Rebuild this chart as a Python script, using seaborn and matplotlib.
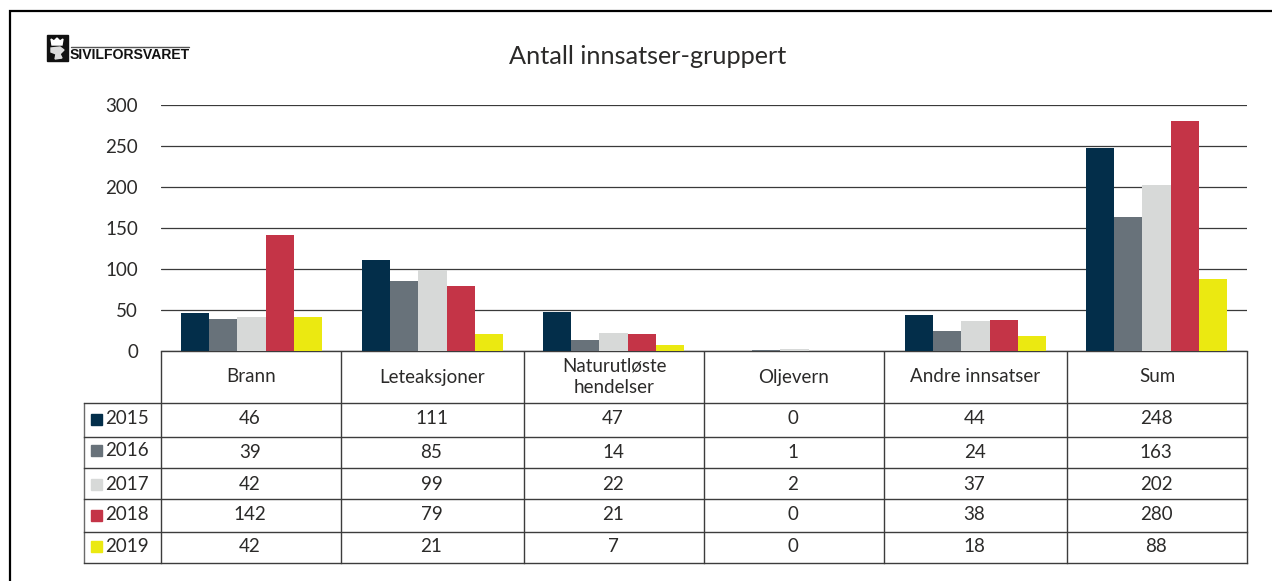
import matplotlib
matplotlib.use('Agg')
import matplotlib.pyplot as plt
from matplotlib.patches import Rectangle, Polygon
import pandas as pd
import seaborn as sns

categories = ['Brann', 'Leteaksjoner', 'Naturutløste\nhendelser', 'Oljevern', 'Andre innsatser', 'Sum']
years = ['2015', '2016', '2017', '2018', '2019']
v2015 = [46, 111, 47, 0, 44, 248]
v2016 = [39, 85, 14, 1, 24, 163]
v2017 = [42, 99, 22, 2, 37, 202]
v2018 = [142, 79, 21, 0, 38, 280]
v2019 = [42, 21, 7, 0, 18, 88]
series = [v2015, v2016, v2017, v2018, v2019]
colors = ['#032e4a', '#68727a', '#d7d9d8', '#c43447', '#ebe911']

W, H = 1272, 581
TXT = '#2b2a29'
LINE = '#3c3c3c'
FS = 13.5

sns.set_theme(style='white')
plt.rcParams['font.family'] = ['Lato', 'DejaVu Sans']

rows = []
for year, vals in zip(years, series):
    for cat, v in zip(categories, vals):
        rows.append({'kategori': cat, 'aar': year, 'antall': v})
df = pd.DataFrame(rows)

fig = plt.figure(figsize=(W / 100, H / 100), dpi=100, facecolor='white')

# chart area
ax = fig.add_axes([161 / W, 1 - 351 / H, (1247 - 161) / W, (351 - 105) / H])
sns.barplot(data=df, x='kategori', y='antall', hue='aar', palette=colors, hue_order=years,
            order=categories, width=0.775, gap=0, saturation=1, legend=False, ax=ax,
            linewidth=0, edgecolor='none', zorder=3)
ax.set_xlim(-0.5, 5.5)
ax.set_ylim(0, 300)
ax.set_yticks(range(0, 301, 50))
ax.tick_params(axis='y', labelsize=FS, labelcolor=TXT, length=0, pad=16.5)
ax.set_xticks([])
ax.set_xlabel('')
ax.set_ylabel('')
ax.grid(axis='y', color='#3a3a3a', lw=0.9, zorder=0)
ax.set_axisbelow(True)
for s in ['top', 'right', 'left']:
    ax.spines[s].set_visible(False)
ax.spines['bottom'].set_color(LINE)
ax.spines['bottom'].set_linewidth(1.0)
ax.spines['bottom'].set_zorder(1)

# overlay in pixel coordinates for frame, logo and data table
ov = fig.add_axes([0, 0, 1, 1], zorder=5)
ov.set_xlim(0, W)
ov.set_ylim(H, 0)
ov.axis('off')
ov.patch.set_alpha(0)

ov.plot([9.5, 9.5, W], [H, 11, 11], color='black', lw=1.6, solid_joinstyle='miter')
ov.text(648, 57, 'Antall innsatser-gruppert', ha='center', va='center', fontsize=18.2, color=TXT)

# logo, rough crown and lion shapes
ov.add_patch(Rectangle((47, 35), 21, 26, color='#111111'))
ov.add_patch(Polygon([(52, 45), (51, 39), (54, 41), (57, 38), (60, 41), (63, 39), (62, 45)], color='white'))
ov.add_patch(Polygon([(51, 48), (60, 47), (64, 50), (60, 54), (62, 58), (55, 59), (56, 54), (51, 52)], color='#dddddd'))
ov.plot([71, 189], [46.5, 46.5], color='#555555', lw=1)
ov.text(70, 55, 'SIVILFORSVARET', ha='left', va='center', fontsize=10.1, fontweight='bold',
        color='#111111', family='Liberation Sans')

# table
col_x = [161, 341, 524, 704, 884, 1067, 1247]
row_y = [403, 437, 468, 499, 532, 563]
label_y = [419, 452, 484, 515, 547]
year_y = [419, 450, 484, 515, 546]
swatch_y = [414, 445, 479, 510, 541]
line_kw = dict(color=LINE, lw=1.0, solid_capstyle='projecting')
for x in col_x:
    ov.plot([x, x], [352, 563], **line_kw)
ov.plot([84, 84], [403, 563], color='#6a6a6a', lw=1.0)
for y in row_y:
    ov.plot([84, 1247], [y, y], **line_kw)

for i, cat in enumerate(categories):
    cx = (col_x[i] + col_x[i + 1]) / 2
    ov.text(cx, 377, cat, ha='center', va='center', fontsize=FS, color=TXT, linespacing=1.3)
    for r, vals in enumerate(series):
        ov.text(cx - 1, label_y[r], str(vals[i]), ha='center', va='center', fontsize=FS, color=TXT)

for r, year in enumerate(years):
    ov.add_patch(Rectangle((91, swatch_y[r]), 11, 11, color=colors[r]))
    ov.text(105, year_y[r], year, ha='left', va='center', fontsize=FS, color=TXT)

fig.savefig('out.png', dpi=100, facecolor='white')
